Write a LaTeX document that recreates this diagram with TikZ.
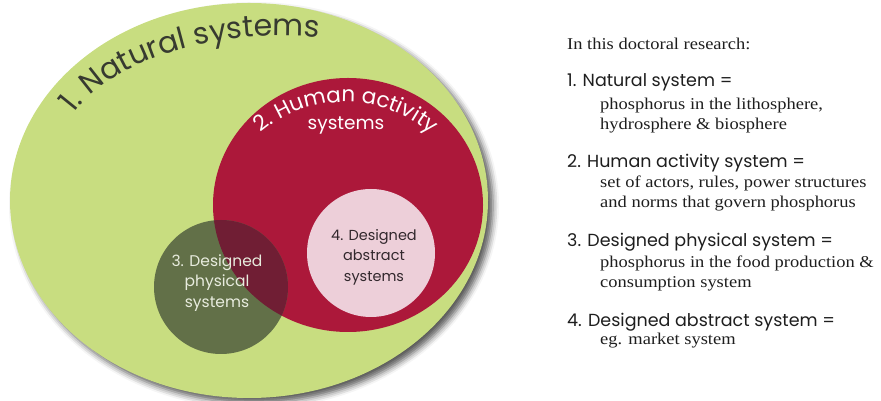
\documentclass[tikz,border=0pt]{standalone}
\usepackage{fontspec}
\setmainfont[FakeStretch=1.12]{Liberation Serif}
\newfontfamily\gothic{Poppins}
\usetikzlibrary{decorations.text,shadows.blur}
\definecolor{natgreen}{RGB}{200,221,128}
\definecolor{humred}{RGB}{172,24,58}
\definecolor{physgreen}{RGB}{98,112,72}
\definecolor{overlapc}{RGB}{112,30,52}
\definecolor{abspink}{RGB}{237,207,217}
\definecolor{natdark}{RGB}{55,58,48}
\definecolor{absdark}{RGB}{50,40,45}
\definecolor{physwhite}{RGB}{232,236,222}
\definecolor{txt}{RGB}{30,30,30}
\begin{document}
\begin{tikzpicture}[x=1pt,y=1pt,
  serifline/.style={anchor=base west, inner sep=0pt, text=txt, font=\fontsize{16.5}{16.5}\selectfont},
  sansline/.style={anchor=base west, inner sep=0pt, text=txt, font=\gothic\fontsize{17.5}{17.5}\selectfont},
  circlabel/.style={align=center, inner sep=0pt}]
\useasboundingbox (0,0) rectangle (881,401);
% 1. natural systems ellipse with shadow
\fill[natgreen, blur shadow={shadow xshift=5pt, shadow yshift=-5pt, shadow blur radius=6pt, shadow opacity=65}]
  (249,200.5) ellipse [x radius=239, y radius=197.5];
% 2. human activity
\fill[humred] (348,196) ellipse [x radius=135, y radius=127];
% 3. designed physical
\fill[physgreen] (221,114) circle [radius=67];
\begin{scope}
  \clip (348,196) ellipse [x radius=135, y radius=127];
  \fill[overlapc] (221,114) circle [radius=67];
\end{scope}
% 4. designed abstract
\fill[abspink] (371,148) circle [radius=64];
% curved titles
\path[decorate, decoration={text along path, text align=center, text color=natdark,
  text={|\gothic\fontsize{30}{30}\selectfont|1. Natural systems}}]
  (282,240) ++(160:225 and 125) arc[start angle=160, end angle=79, x radius=225, y radius=125];
\path[decorate, decoration={text along path, text align=center, text color=white,
  text={|\gothic\fontsize{21.5}{21.5}\selectfont|2. Human activity}}]
  (345,169) ++(137:130) arc[start angle=137, end angle=42, radius=130];
\node[anchor=base, inner sep=0pt, text=white, font=\gothic\fontsize{18.5}{18.5}\selectfont] (hsys) at (346,271) {systems};
\node[circlabel, text=physwhite, font=\gothic\fontsize{15.5}{20.5}\selectfont] (phys) at (217,118) {3. Designed\\physical\\systems};
\node[circlabel, text=absdark, font=\gothic\fontsize{14.5}{20.5}\selectfont] (abs) at (374,144) {4. Designed\\abstract\\systems};
% legend
\node[serifline] (t0) at (567,351) {In this doctoral research:};
\node[sansline] (t1) at (567,314) {1. Natural system =};
\node[serifline] (t2) at (600,291) {phosphorus in the lithosphere,};
\node[serifline] (t3) at (600,271) {hydrosphere \& biosphere};
\node[sansline] (t4) at (567,233) {2. Human activity system =};
\node[serifline] (t5) at (600,213) {set of actors, rules, power structures};
\node[serifline] (t6) at (600,193) {and norms that govern phosphorus};
\node[sansline] (t7) at (567,154) {3. Designed physical system =};
\node[serifline] (t8) at (600,133) {phosphorus in the food production \&};
\node[serifline] (t9) at (600,113) {consumption system};
\node[sansline] (t10) at (567,74) {4. Designed abstract system =};
\node[serifline] (t11) at (600,56) {eg. market system};
\end{tikzpicture}
\end{document}
